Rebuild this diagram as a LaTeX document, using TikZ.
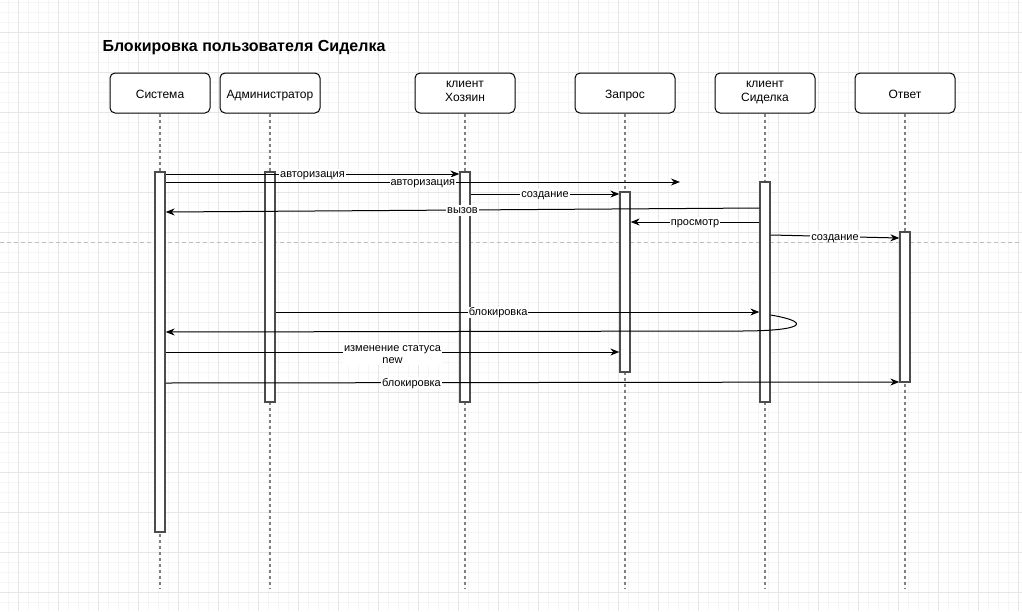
\documentclass[tikz,border=0pt]{standalone}
\usepackage{fontspec}
\setmainfont{Liberation Sans}
\usetikzlibrary{arrows.meta}
\definecolor{gridminor}{HTML}{F5F5F5}
\definecolor{gridmajor}{HTML}{E6E6E6}
\begin{document}
\begin{tikzpicture}[
         x = 1pt, y = -1pt,
     head/.style = {shape=rectangle, rounded corners=5pt, draw=black, line width=1pt,
                    fill=white, minimum width=100pt, minimum height=40pt, inner sep=1pt,
                    align=center, font=\fontsize{12}{13.5}\selectfont,
                    execute at begin node={\rule{0pt}{13pt}},
                    execute at end node={\rule[-3pt]{0pt}{3pt}}},
      bar/.style = {shape=rectangle, draw=black!70, line width=1.3pt, fill=white,
                    minimum width=10pt, inner sep=0pt},
     life/.style = {draw=gray, line width=1.2pt, dash pattern=on 3pt off 3pt},
      msg/.style = {draw=black, line width=1pt, -{Stealth[length=9pt,width=7pt]}},
       el/.style = {fill=white, inner sep=1pt, text height=8pt, text depth=1pt,
                    font=\fontsize{11}{12.5}\selectfont},
      el2/.style = {fill=white, inner sep=1pt, align=center,
                    font=\fontsize{11}{12.5}\selectfont}
                    ]
\useasboundingbox (0,0) rectangle (1022,611);
\fill[white] (0,0) rectangle (1022,611);
\foreach \k in {0,...,101} \draw[gridminor] (7.7+10*\k,0) -- (7.7+10*\k,611);
\foreach \k in {0,...,60} \draw[gridminor] (0,2+10*\k) -- (1022,2+10*\k);
\foreach \k in {0,...,25} \draw[gridmajor] (17.7+40*\k,0) -- (17.7+40*\k,611);
\foreach \k in {0,...,14} \draw[gridmajor] (0,32+40*\k) -- (1022,32+40*\k);
\draw[black!25, dash pattern=on 4pt off 3pt] (0,242) -- (1022,242);

\node[anchor=west, font=\bfseries\fontsize{16}{18}\selectfont] (title) at (99,48) {Блокировка пользователя Сиделка};

\node[head] (sys) at (160,93) {Система};
\node[head] (adm) at (270,93) {Администратор};
\node[head] (own) at (465,93) {клиент\\Хозяин};
\node[head] (req) at (625,93) {Запрос};
\node[head] (nur) at (765,93) {клиент\\Сиделка};
\node[head] (ans) at (905,93) {Ответ};

\foreach \n/\x in {sys/160, adm/270, own/465, req/625, nur/765, ans/905} {
  \coordinate (\n-end) at (\x,589);
  \draw[life] (\n.south) -- (\n-end);
}

\node[bar, minimum height=360pt] (sysbar) at (160,352) {};
\node[bar, minimum height=230pt] (admbar) at (270,287) {};
\node[bar, minimum height=230pt] (ownbar) at (465,287) {};
\node[bar, minimum height=180pt] (reqbar) at (625,282) {};
\node[bar, minimum height=220pt] (nurbar) at (765,292) {};
\node[bar, minimum height=150pt] (ansbar) at (905,307) {};

\coordinate (loose) at (680,182);
\coordinate (turn) at (740,331);

\path (sysbar.east |- 0,174) edge[msg] node[el, pos=0.5] {авторизация} (ownbar.west |- 0,174);
\path (sysbar.east |- 0,182) edge[msg] node[el, pos=0.5] {авторизация} (loose);
\path (ownbar.east |- 0,194) edge[msg] node[el, pos=0.5] {создание} (reqbar.west |- 0,194);
\path (nurbar.west |- 0,208) edge[msg] node[el, pos=0.5] {вызов} (sysbar.east |- 0,212);
\path (nurbar.west |- 0,222) edge[msg] node[el, pos=0.5] {просмотр} (reqbar.east |- 0,222);
\path (nurbar.east |- 0,235) edge[msg] node[el, pos=0.5] {создание} (ansbar.west |- 0,238);
\path (admbar.east |- 0,312) edge[msg] node[el, pos=0.46] {блокировка} (nurbar.west |- 0,312);
\draw[msg] (nurbar.east |- 0,315) .. controls (812,322) and (805,331) .. (turn) -- (sysbar.east |- 0,332);
\path (sysbar.east |- 0,352) edge[msg] node[el2, pos=0.5, yshift=-2.5pt] {изменение статуса\\new} (reqbar.west |- 0,352);
\path (sysbar.east |- 0,383) edge[msg] node[el, pos=0.335] {блокировка} (ansbar.west |- 0,382);

\end{tikzpicture}
\end{document}
